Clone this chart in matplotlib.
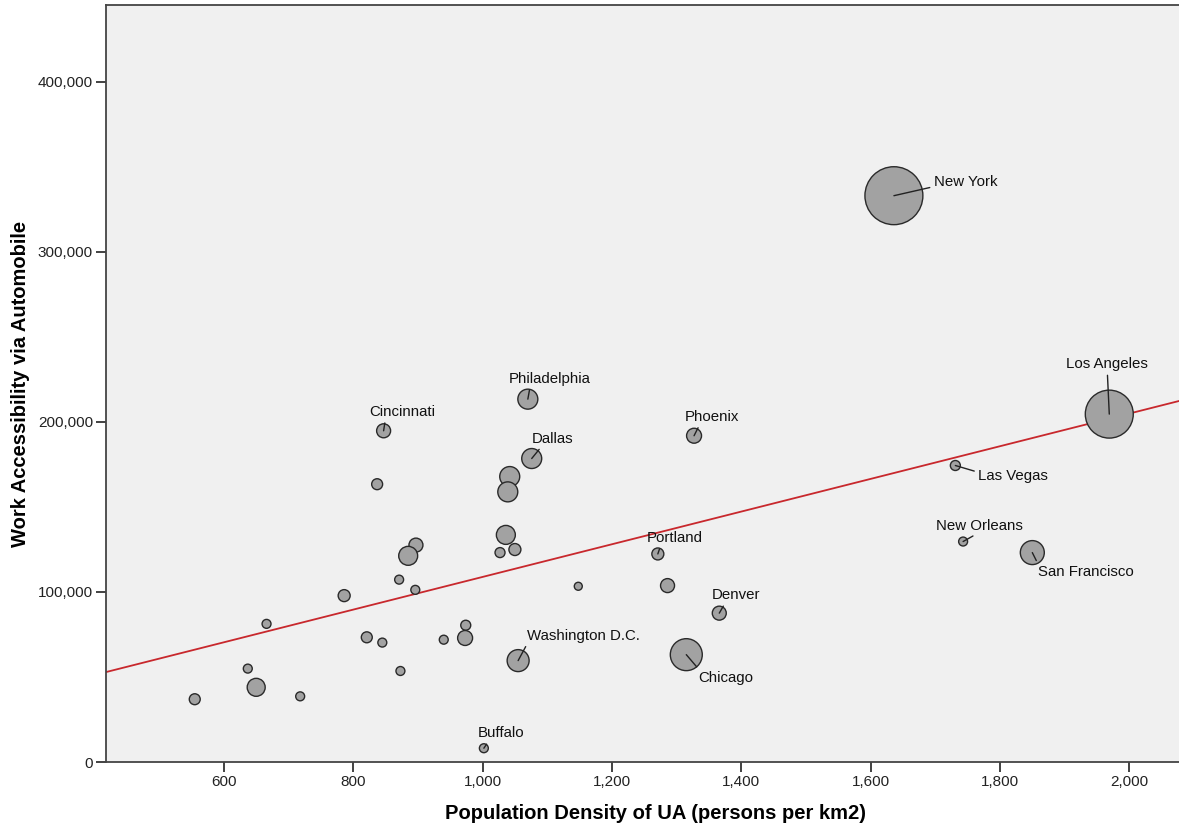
import numpy as np
import matplotlib
matplotlib.use('Agg')
import matplotlib.pyplot as plt
from matplotlib.ticker import FuncFormatter

# urban areas: population density vs work accessibility by car
names = ['New York', 'Los Angeles', 'Las Vegas', 'New Orleans', 'San Francisco',
         'Philadelphia', 'Phoenix', 'Dallas', 'Portland', 'Denver', 'Chicago',
         'Washington D.C.', 'Buffalo', 'Cincinnati',
         '', '', '', '', '', '', '', '', '', '', '', '',
         '', '', '', '', '', '', '', '', '', '', '', '']
density = [1636, 1969, 1731, 1743, 1850,
           1070, 1327, 1076, 1271, 1366, 1315,
           1055, 1002, 847,
           837, 1042, 1039, 1036, 1050, 1027, 897, 885, 871, 896, 786, 1148,
           666, 821, 845, 940, 974, 973, 637, 873, 650, 555, 718, 1286]
access = [332900, 204500, 174300, 129600, 123100,
          213300, 191800, 178400, 122300, 87500, 63100,
          59600, 8100, 194700,
          163300, 167800, 158800, 133500, 124900, 123100, 127500, 121200, 107200, 101200, 97800, 103300,
          81200, 73300, 70200, 71900, 80400, 72900, 54900, 53500, 43900, 36900, 38600, 103700]
# bubble variable (area proportional)
size_var = [841, 576, 25, 20, 144,
            100, 56, 100, 36, 49, 256,
            121, 20, 49,
            30, 100, 100, 90, 36, 25, 49, 90, 20, 20, 36, 16,
            20, 30, 20, 20, 25, 56, 20, 20, 81, 30, 20, 49]

x_ticks = [600, 800, 1000, 1200, 1400, 1600, 1800, 2000]
y_ticks = [0, 100000, 200000, 300000, 400000]

# label layout: (dx, dy) in pixels, ha, relpos of leader on text box
label_style = {
    'New York':        ((40, 14), 'left', (0.0, 0.15)),
    'Los Angeles':     ((-2, 50), 'center', (0.5, 0.0)),
    'Las Vegas':       ((23, -11), 'left', (0.0, 0.8)),
    'New Orleans':     ((16, 16), 'center', (0.5, 0.0)),
    'San Francisco':   ((6, -19), 'left', (0.0, 1.0)),
    'Philadelphia':    ((22, 20), 'center', (0.26, 0.0)),
    'Phoenix':         ((18, 19), 'center', (0.28, 0.0)),
    'Dallas':          ((21, 20), 'center', (0.25, 0.0)),
    'Portland':        ((17, 16), 'center', (0.25, 0.0)),
    'Denver':          ((17, 18), 'center', (0.28, 0.0)),
    'Chicago':         ((12, -23), 'left', (0.03, 1.0)),
    'Washington D.C.': ((65, 25), 'center', (0.01, 0.0)),
    'Buffalo':         ((17, 15), 'center', (0.25, 0.0)),
    'Cincinnati':      ((19, 19), 'center', (0.24, 0.0)),
}

plt.rcParams['font.family'] = ['Liberation Sans', 'DejaVu Sans']

fig = plt.figure(figsize=(11.79, 8.32), dpi=100)
ax = fig.add_axes([105.5 / 1179, 1 - 762 / 832, (1205 - 105.5) / 1179, 757 / 832])
ax.set_facecolor('#f0f0f0')

x = np.array(density, dtype=float)
y = np.array(access, dtype=float)

# linear fit line
slope, intercept = np.polyfit(x, y, 1)
xl = np.array([400, 2200])
ax.plot(xl, intercept + slope * xl, color='#c8282d', lw=1.3, zorder=2)

s = 2.07 * np.array(size_var, dtype=float)
ax.scatter(x, y, s=s, facecolor='#a2a2a2', edgecolor='#2a2a2a', linewidth=1.0, zorder=3)

for name, xi, yi in zip(names, x, y):
    if not name:
        continue
    (dx, dy), ha, rel = label_style[name]
    ax.annotate(name, xy=(xi, yi), xytext=(dx, dy), textcoords='offset pixels',
                ha=ha, va='center', fontsize=10.8, color='#111111', zorder=4,
                arrowprops=dict(arrowstyle='-', color='#222222', lw=1.0,
                                shrinkA=1, shrinkB=0, relpos=rel))

ax.set_xlim(417, 2117)
ax.set_ylim(0, 445000)
ax.set_xticks(x_ticks)
ax.set_yticks(y_ticks)
ax.xaxis.set_major_formatter(FuncFormatter(lambda v, p: f'{v:,.0f}'))
ax.yaxis.set_major_formatter(FuncFormatter(lambda v, p: f'{v:,.0f}'))
ax.tick_params(axis='both', length=7, width=1.3, color='#333333', labelsize=11,
               labelcolor='#222222', pad=2)

for side in ['left', 'bottom', 'top']:
    ax.spines[side].set_color('#444444')
    ax.spines[side].set_linewidth(1.3)
ax.spines['right'].set_visible(False)

ax.set_xlabel('Population Density of UA (persons per km2)', fontsize=14.5, fontweight='bold',
              labelpad=11)
ax.set_ylabel('Work Accessibility via Automobile', fontsize=14.5, fontweight='bold',
              labelpad=6)

fig.savefig('out.png', dpi=100)
